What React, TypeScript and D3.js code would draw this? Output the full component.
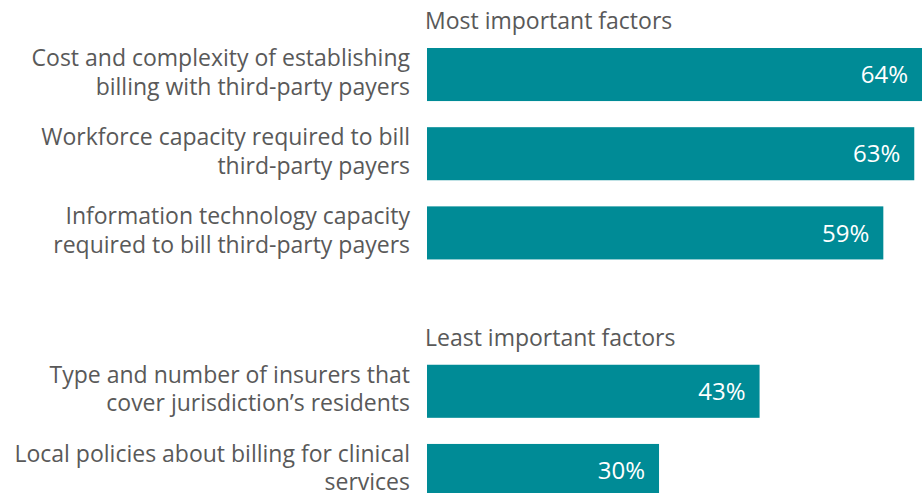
import React from "react";
import * as d3 from "d3";

const categories: string[][] = [
  ["Cost and complexity of establishing", "billing with third-party payers"],
  ["Workforce capacity required to bill", "third-party payers"],
  ["Information technology capacity", "required to bill third-party payers"],
  ["Type and number of insurers that", "cover jurisdiction’s residents"],
  ["Local policies about billing for clinical", "services"],
];
const values: number[] = [64, 63, 59, 43, 30];
const groups: string[] = ["most", "most", "most", "least", "least"];
const groupTitles: { [k: string]: string } = {
  most: "Most important factors",
  least: "Least important factors",
};

const W = 924;
const H = 493;
const FONT = "'Open Sans', Lato, sans-serif";
const TEXT = "#595959";
const BAR = "#008b96";

export default function App() {
  const rowKeys: string[] = [];
  categories.forEach((_, i) => {
    if (i > 0 && groups[i] !== groups[i - 1]) rowKeys.push("gap");
    rowKeys.push("r" + i);
  });
  const y = d3.scaleBand<string>().domain(rowKeys).range([48, 497]).paddingInner(0.33).paddingOuter(0);
  const x = d3.scaleLinear().domain([0, 64]).range([427, 922]);

  const firstOfGroup = categories.map((_, i) => i === 0 || groups[i] !== groups[i - 1]);
  const lineH = 28.5;

  return (
    <svg width={W} height={H} style={{ position: "absolute", left: 0, top: 0 }} fontFamily={FONT}>
      {categories.map((lines, i) => {
        const key = "r" + i;
        const y0 = y(key)!;
        const bw = y.bandwidth();
        const cy = y0 + bw / 2;
        return (
          <g key={key}>
            {firstOfGroup[i] && (
              <text x={425} y={y0 - 19} fill={TEXT} fontSize={23}>
                {groupTitles[groups[i]]}
              </text>
            )}
            <rect x={x(0)} y={y0} width={x(values[i]) - x(0)} height={bw} fill={BAR} />
            <text x={x(values[i]) - 14} y={cy} dy="0.36em" fill="#fff" fontSize={24} textAnchor="end">
              {values[i]}%
            </text>
            <text x={410} y={cy} fill={TEXT} fontSize={23} textAnchor="end">
              {lines.map((l, j) => (
                <tspan key={j} x={410} y={cy + (j - (lines.length - 1) / 2) * lineH} dy="0.25em">
                  {l}
                </tspan>
              ))}
            </text>
          </g>
        );
      })}
    </svg>
  );
}
